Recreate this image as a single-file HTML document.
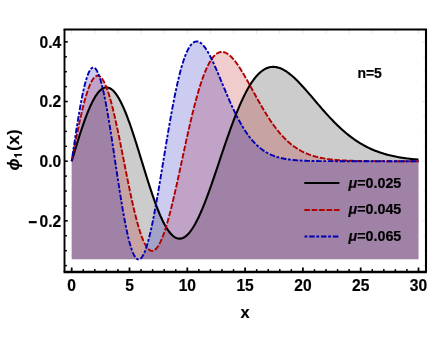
<!DOCTYPE html>
<html><head><meta charset="utf-8"><style>
html,body{margin:0;padding:0;background:#fff;}
text{stroke:#000;stroke-width:0.18px;stroke-linejoin:round;}
svg{display:block;will-change:transform;font-family:"Liberation Sans",sans-serif;font-weight:bold;}
</style></head><body>
<svg width="436" height="354" viewBox="0 0 436 354">
<rect width="436" height="354" fill="#fff"/>
<path d="M71.70,161.20 L72.86,157.34 L74.01,153.50 L75.17,149.67 L76.32,145.88 L77.48,142.13 L78.64,138.43 L79.79,134.80 L80.95,131.23 L82.10,127.75 L83.26,124.36 L84.42,121.08 L85.57,117.90 L86.73,114.84 L87.88,111.91 L89.04,109.11 L90.20,106.45 L91.35,103.95 L92.51,101.60 L93.66,99.41 L94.82,97.40 L95.98,95.55 L97.13,93.89 L98.29,92.40 L99.44,91.11 L100.60,90.00 L101.76,89.09 L102.91,88.37 L104.07,87.85 L105.22,87.53 L106.38,87.41 L107.54,87.48 L108.69,87.76 L109.85,88.23 L111.00,88.89 L112.16,89.75 L113.32,90.81 L114.47,92.04 L115.63,93.47 L116.78,95.07 L117.94,96.85 L119.10,98.80 L120.25,100.91 L121.41,103.19 L122.56,105.61 L123.72,108.18 L124.88,110.90 L126.03,113.74 L127.19,116.71 L128.34,119.79 L129.50,122.98 L130.66,126.27 L131.81,129.65 L132.97,133.11 L134.12,136.64 L135.28,140.24 L136.44,143.89 L137.59,147.58 L138.75,151.31 L139.90,155.07 L141.06,158.84 L142.22,162.61 L143.37,166.39 L144.53,170.15 L145.68,173.88 L146.84,177.59 L148.00,181.25 L149.15,184.87 L150.31,188.42 L151.46,191.91 L152.62,195.33 L153.78,198.66 L154.93,201.90 L156.09,205.04 L157.24,208.07 L158.40,211.00 L159.56,213.80 L160.71,216.48 L161.87,219.02 L163.02,221.43 L164.18,223.70 L165.34,225.82 L166.49,227.79 L167.65,229.60 L168.80,231.25 L169.96,232.75 L171.12,234.08 L172.27,235.24 L173.43,236.23 L174.58,237.05 L175.74,237.71 L176.90,238.19 L178.05,238.50 L179.21,238.63 L180.36,238.60 L181.52,238.40 L182.68,238.02 L183.83,237.48 L184.99,236.78 L186.14,235.91 L187.30,234.89 L188.46,233.70 L189.61,232.37 L190.77,230.88 L191.92,229.25 L193.08,227.48 L194.24,225.57 L195.39,223.53 L196.55,221.36 L197.70,219.07 L198.86,216.67 L200.02,214.15 L201.17,211.53 L202.33,208.81 L203.48,206.00 L204.64,203.10 L205.80,200.12 L206.95,197.07 L208.11,193.95 L209.26,190.76 L210.42,187.52 L211.58,184.24 L212.73,180.91 L213.89,177.54 L215.04,174.15 L216.20,170.73 L217.36,167.29 L218.51,163.85 L219.67,160.40 L220.82,156.95 L221.98,153.51 L223.14,150.08 L224.29,146.67 L225.45,143.28 L226.60,139.93 L227.76,136.60 L228.92,133.32 L230.07,130.08 L231.23,126.90 L232.38,123.76 L233.54,120.68 L234.70,117.67 L235.85,114.72 L237.01,111.84 L238.16,109.03 L239.32,106.29 L240.48,103.64 L241.63,101.07 L242.79,98.58 L243.94,96.18 L245.10,93.87 L246.26,91.64 L247.41,89.51 L248.57,87.48 L249.72,85.54 L250.88,83.69 L252.04,81.94 L253.19,80.29 L254.35,78.73 L255.50,77.28 L256.66,75.92 L257.82,74.66 L258.97,73.50 L260.13,72.43 L261.28,71.47 L262.44,70.59 L263.60,69.82 L264.75,69.13 L265.91,68.54 L267.06,68.05 L268.22,67.64 L269.38,67.32 L270.53,67.08 L271.69,66.93 L272.84,66.87 L274.00,66.88 L275.16,66.97 L276.31,67.14 L277.47,67.39 L278.62,67.70 L279.78,68.09 L280.94,68.54 L282.09,69.06 L283.25,69.64 L284.40,70.29 L285.56,70.99 L286.72,71.74 L287.87,72.55 L289.03,73.40 L290.18,74.31 L291.34,75.26 L292.50,76.25 L293.65,77.28 L294.81,78.35 L295.96,79.46 L297.12,80.59 L298.28,81.76 L299.43,82.96 L300.59,84.18 L301.74,85.42 L302.90,86.68 L304.06,87.97 L305.21,89.26 L306.37,90.58 L307.52,91.90 L308.68,93.24 L309.84,94.58 L310.99,95.94 L312.15,97.29 L313.30,98.65 L314.46,100.01 L315.62,101.37 L316.77,102.73 L317.93,104.08 L319.08,105.43 L320.24,106.77 L321.40,108.11 L322.55,109.44 L323.71,110.75 L324.86,112.06 L326.02,113.35 L327.18,114.63 L328.33,115.90 L329.49,117.15 L330.64,118.39 L331.80,119.60 L332.96,120.81 L334.11,121.99 L335.27,123.16 L336.42,124.30 L337.58,125.43 L338.74,126.54 L339.89,127.62 L341.05,128.69 L342.20,129.73 L343.36,130.76 L344.52,131.76 L345.67,132.74 L346.83,133.70 L347.98,134.64 L349.14,135.56 L350.30,136.45 L351.45,137.32 L352.61,138.17 L353.76,139.00 L354.92,139.81 L356.08,140.60 L357.23,141.36 L358.39,142.11 L359.54,142.83 L360.70,143.53 L361.86,144.21 L363.01,144.88 L364.17,145.52 L365.32,146.14 L366.48,146.74 L367.64,147.33 L368.79,147.89 L369.95,148.44 L371.10,148.97 L372.26,149.48 L373.42,149.97 L374.57,150.45 L375.73,150.91 L376.88,151.35 L378.04,151.78 L379.20,152.20 L380.35,152.59 L381.51,152.98 L382.66,153.35 L383.82,153.70 L384.98,154.04 L386.13,154.37 L387.29,154.69 L388.44,154.99 L389.60,155.28 L390.76,155.56 L391.91,155.83 L393.07,156.09 L394.22,156.33 L395.38,156.57 L396.54,156.80 L397.69,157.01 L398.85,157.22 L400.00,157.42 L401.16,157.61 L402.32,157.79 L403.47,157.96 L404.63,158.13 L405.78,158.29 L406.94,158.44 L408.10,158.58 L409.25,158.72 L410.41,158.85 L411.56,158.97 L412.72,159.09 L413.88,159.20 L415.03,159.31 L416.19,159.41 L417.34,159.51 L418.50,159.60 L418.50,259.30 L71.70,259.30 Z" fill="#000" fill-opacity="0.2"/>
<path d="M71.70,161.20 L72.86,155.21 L74.01,149.25 L75.17,143.35 L76.32,137.53 L77.48,131.84 L78.64,126.29 L79.79,120.91 L80.95,115.73 L82.10,110.77 L83.26,106.07 L84.42,101.63 L85.57,97.49 L86.73,93.66 L87.88,90.17 L89.04,87.02 L90.20,84.23 L91.35,81.83 L92.51,79.81 L93.66,78.19 L94.82,76.97 L95.98,76.16 L97.13,75.77 L98.29,75.79 L99.44,76.22 L100.60,77.07 L101.76,78.32 L102.91,79.97 L104.07,82.00 L105.22,84.42 L106.38,87.21 L107.54,90.34 L108.69,93.82 L109.85,97.61 L111.00,101.71 L112.16,106.08 L113.32,110.72 L114.47,115.59 L115.63,120.67 L116.78,125.94 L117.94,131.38 L119.10,136.95 L120.25,142.64 L121.41,148.41 L122.56,154.24 L123.72,160.10 L124.88,165.97 L126.03,171.81 L127.19,177.61 L128.34,183.33 L129.50,188.95 L130.66,194.46 L131.81,199.81 L132.97,204.99 L134.12,209.99 L135.28,214.77 L136.44,219.32 L137.59,223.61 L138.75,227.64 L139.90,231.39 L141.06,234.84 L142.22,237.97 L143.37,240.79 L144.53,243.27 L145.68,245.41 L146.84,247.21 L148.00,248.66 L149.15,249.74 L150.31,250.48 L151.46,250.85 L152.62,250.86 L153.78,250.52 L154.93,249.83 L156.09,248.80 L157.24,247.42 L158.40,245.72 L159.56,243.69 L160.71,241.35 L161.87,238.71 L163.02,235.78 L164.18,232.58 L165.34,229.12 L166.49,225.41 L167.65,221.47 L168.80,217.31 L169.96,212.96 L171.12,208.43 L172.27,203.74 L173.43,198.89 L174.58,193.93 L175.74,188.85 L176.90,183.68 L178.05,178.44 L179.21,173.14 L180.36,167.80 L181.52,162.45 L182.68,157.08 L183.83,151.74 L184.99,146.42 L186.14,141.14 L187.30,135.92 L188.46,130.78 L189.61,125.73 L190.77,120.77 L191.92,115.93 L193.08,111.22 L194.24,106.64 L195.39,102.20 L196.55,97.92 L197.70,93.81 L198.86,89.87 L200.02,86.10 L201.17,82.52 L202.33,79.13 L203.48,75.93 L204.64,72.93 L205.80,70.13 L206.95,67.53 L208.11,65.14 L209.26,62.95 L210.42,60.97 L211.58,59.19 L212.73,57.61 L213.89,56.23 L215.04,55.05 L216.20,54.07 L217.36,53.28 L218.51,52.67 L219.67,52.25 L220.82,52.00 L221.98,51.93 L223.14,52.02 L224.29,52.28 L225.45,52.69 L226.60,53.25 L227.76,53.95 L228.92,54.78 L230.07,55.75 L231.23,56.83 L232.38,58.03 L233.54,59.33 L234.70,60.74 L235.85,62.24 L237.01,63.82 L238.16,65.49 L239.32,67.22 L240.48,69.02 L241.63,70.88 L242.79,72.79 L243.94,74.75 L245.10,76.74 L246.26,78.77 L247.41,80.83 L248.57,82.90 L249.72,85.00 L250.88,87.10 L252.04,89.22 L253.19,91.33 L254.35,93.44 L255.50,95.54 L256.66,97.64 L257.82,99.71 L258.97,101.77 L260.13,103.81 L261.28,105.82 L262.44,107.81 L263.60,109.76 L264.75,111.69 L265.91,113.57 L267.06,115.43 L268.22,117.24 L269.38,119.01 L270.53,120.75 L271.69,122.44 L272.84,124.09 L274.00,125.69 L275.16,127.25 L276.31,128.76 L277.47,130.23 L278.62,131.66 L279.78,133.04 L280.94,134.37 L282.09,135.66 L283.25,136.90 L284.40,138.10 L285.56,139.26 L286.72,140.37 L287.87,141.44 L289.03,142.46 L290.18,143.45 L291.34,144.39 L292.50,145.30 L293.65,146.16 L294.81,146.99 L295.96,147.78 L297.12,148.54 L298.28,149.26 L299.43,149.95 L300.59,150.60 L301.74,151.23 L302.90,151.82 L304.06,152.38 L305.21,152.92 L306.37,153.42 L307.52,153.90 L308.68,154.36 L309.84,154.79 L310.99,155.19 L312.15,155.58 L313.30,155.94 L314.46,156.29 L315.62,156.61 L316.77,156.91 L317.93,157.20 L319.08,157.47 L320.24,157.72 L321.40,157.96 L322.55,158.19 L323.71,158.40 L324.86,158.59 L326.02,158.78 L327.18,158.95 L328.33,159.11 L329.49,159.26 L330.64,159.41 L331.80,159.54 L332.96,159.66 L334.11,159.78 L335.27,159.88 L336.42,159.98 L337.58,160.08 L338.74,160.16 L339.89,160.24 L341.05,160.32 L342.20,160.39 L343.36,160.45 L344.52,160.51 L345.67,160.57 L346.83,160.62 L347.98,160.66 L349.14,160.71 L350.30,160.75 L351.45,160.78 L352.61,160.82 L353.76,160.85 L354.92,160.88 L356.08,160.91 L357.23,160.93 L358.39,160.96 L359.54,160.98 L360.70,161.00 L361.86,161.01 L363.01,161.03 L364.17,161.04 L365.32,161.06 L366.48,161.07 L367.64,161.08 L368.79,161.09 L369.95,161.10 L371.10,161.11 L372.26,161.12 L373.42,161.13 L374.57,161.13 L375.73,161.14 L376.88,161.15 L378.04,161.15 L379.20,161.16 L380.35,161.16 L381.51,161.16 L382.66,161.17 L383.82,161.17 L384.98,161.17 L386.13,161.18 L387.29,161.18 L388.44,161.18 L389.60,161.18 L390.76,161.18 L391.91,161.19 L393.07,161.19 L394.22,161.19 L395.38,161.19 L396.54,161.19 L397.69,161.19 L398.85,161.19 L400.00,161.19 L401.16,161.19 L402.32,161.19 L403.47,161.20 L404.63,161.20 L405.78,161.20 L406.94,161.20 L408.10,161.20 L409.25,161.20 L410.41,161.20 L411.56,161.20 L412.72,161.20 L413.88,161.20 L415.03,161.20 L416.19,161.20 L417.34,161.20 L418.50,161.20 L418.50,259.30 L71.70,259.30 Z" fill="#b20000" fill-opacity="0.2"/>
<path d="M71.70,161.20 L72.86,153.31 L74.01,145.48 L75.17,137.76 L76.32,130.20 L77.48,122.87 L78.64,115.81 L79.79,109.08 L80.95,102.71 L82.10,96.76 L83.26,91.28 L84.42,86.28 L85.57,81.82 L86.73,77.92 L87.88,74.61 L89.04,71.92 L90.20,69.85 L91.35,68.42 L92.51,67.65 L93.66,67.53 L94.82,68.07 L95.98,69.25 L97.13,71.08 L98.29,73.53 L99.44,76.59 L100.60,80.23 L101.76,84.43 L102.91,89.16 L104.07,94.38 L105.22,100.06 L106.38,106.15 L107.54,112.61 L108.69,119.40 L109.85,126.47 L111.00,133.77 L112.16,141.26 L113.32,148.88 L114.47,156.58 L115.63,164.31 L116.78,172.01 L117.94,179.65 L119.10,187.17 L120.25,194.53 L121.41,201.67 L122.56,208.55 L123.72,215.13 L124.88,221.37 L126.03,227.24 L127.19,232.70 L128.34,237.71 L129.50,242.26 L130.66,246.31 L131.81,249.85 L132.97,252.85 L134.12,255.31 L135.28,257.22 L136.44,258.55 L137.59,259.33 L138.75,259.53 L139.90,259.18 L141.06,258.26 L142.22,256.80 L143.37,254.81 L144.53,252.30 L145.68,249.29 L146.84,245.81 L148.00,241.87 L149.15,237.50 L150.31,232.73 L151.46,227.59 L152.62,222.11 L153.78,216.32 L154.93,210.25 L156.09,203.94 L157.24,197.43 L158.40,190.73 L159.56,183.90 L160.71,176.95 L161.87,169.94 L163.02,162.88 L164.18,155.82 L165.34,148.78 L166.49,141.79 L167.65,134.89 L168.80,128.10 L169.96,121.45 L171.12,114.96 L172.27,108.66 L173.43,102.56 L174.58,96.69 L175.74,91.07 L176.90,85.71 L178.05,80.62 L179.21,75.82 L180.36,71.32 L181.52,67.12 L182.68,63.24 L183.83,59.68 L184.99,56.44 L186.14,53.53 L187.30,50.94 L188.46,48.67 L189.61,46.72 L190.77,45.08 L191.92,43.76 L193.08,42.74 L194.24,42.01 L195.39,41.57 L196.55,41.41 L197.70,41.51 L198.86,41.87 L200.02,42.47 L201.17,43.30 L202.33,44.35 L203.48,45.60 L204.64,47.05 L205.80,48.67 L206.95,50.46 L208.11,52.40 L209.26,54.48 L210.42,56.69 L211.58,59.00 L212.73,61.41 L213.89,63.91 L215.04,66.49 L216.20,69.12 L217.36,71.81 L218.51,74.53 L219.67,77.29 L220.82,80.06 L221.98,82.84 L223.14,85.63 L224.29,88.40 L225.45,91.16 L226.60,93.90 L227.76,96.61 L228.92,99.28 L230.07,101.92 L231.23,104.50 L232.38,107.04 L233.54,109.52 L234.70,111.94 L235.85,114.30 L237.01,116.60 L238.16,118.83 L239.32,120.99 L240.48,123.08 L241.63,125.10 L242.79,127.05 L243.94,128.93 L245.10,130.74 L246.26,132.47 L247.41,134.13 L248.57,135.73 L249.72,137.25 L250.88,138.70 L252.04,140.09 L253.19,141.41 L254.35,142.67 L255.50,143.86 L256.66,144.99 L257.82,146.06 L258.97,147.08 L260.13,148.04 L261.28,148.94 L262.44,149.80 L263.60,150.60 L264.75,151.36 L265.91,152.07 L267.06,152.73 L268.22,153.36 L269.38,153.95 L270.53,154.49 L271.69,155.01 L272.84,155.48 L274.00,155.93 L275.16,156.35 L276.31,156.73 L277.47,157.09 L278.62,157.43 L279.78,157.74 L280.94,158.02 L282.09,158.29 L283.25,158.53 L284.40,158.76 L285.56,158.97 L286.72,159.16 L287.87,159.34 L289.03,159.51 L290.18,159.66 L291.34,159.80 L292.50,159.92 L293.65,160.04 L294.81,160.15 L295.96,160.24 L297.12,160.33 L298.28,160.42 L299.43,160.49 L300.59,160.56 L301.74,160.62 L302.90,160.68 L304.06,160.73 L305.21,160.77 L306.37,160.82 L307.52,160.86 L308.68,160.89 L309.84,160.92 L310.99,160.95 L312.15,160.98 L313.30,161.00 L314.46,161.02 L315.62,161.04 L316.77,161.06 L317.93,161.07 L319.08,161.09 L320.24,161.10 L321.40,161.11 L322.55,161.12 L323.71,161.13 L324.86,161.14 L326.02,161.14 L327.18,161.15 L328.33,161.16 L329.49,161.16 L330.64,161.16 L331.80,161.17 L332.96,161.17 L334.11,161.18 L335.27,161.18 L336.42,161.18 L337.58,161.18 L338.74,161.19 L339.89,161.19 L341.05,161.19 L342.20,161.19 L343.36,161.19 L344.52,161.19 L345.67,161.19 L346.83,161.19 L347.98,161.19 L349.14,161.20 L350.30,161.20 L351.45,161.20 L352.61,161.20 L353.76,161.20 L354.92,161.20 L356.08,161.20 L357.23,161.20 L358.39,161.20 L359.54,161.20 L360.70,161.20 L361.86,161.20 L363.01,161.20 L364.17,161.20 L365.32,161.20 L366.48,161.20 L367.64,161.20 L368.79,161.20 L369.95,161.20 L371.10,161.20 L372.26,161.20 L373.42,161.20 L374.57,161.20 L375.73,161.20 L376.88,161.20 L378.04,161.20 L379.20,161.20 L380.35,161.20 L381.51,161.20 L382.66,161.20 L383.82,161.20 L384.98,161.20 L386.13,161.20 L387.29,161.20 L388.44,161.20 L389.60,161.20 L390.76,161.20 L391.91,161.20 L393.07,161.20 L394.22,161.20 L395.38,161.20 L396.54,161.20 L397.69,161.20 L398.85,161.20 L400.00,161.20 L401.16,161.20 L402.32,161.20 L403.47,161.20 L404.63,161.20 L405.78,161.20 L406.94,161.20 L408.10,161.20 L409.25,161.20 L410.41,161.20 L411.56,161.20 L412.72,161.20 L413.88,161.20 L415.03,161.20 L416.19,161.20 L417.34,161.20 L418.50,161.20 L418.50,259.30 L71.70,259.30 Z" fill="#0000b2" fill-opacity="0.2"/>
<path d="M71.70,161.20 L72.86,157.34 L74.01,153.50 L75.17,149.67 L76.32,145.88 L77.48,142.13 L78.64,138.43 L79.79,134.80 L80.95,131.23 L82.10,127.75 L83.26,124.36 L84.42,121.08 L85.57,117.90 L86.73,114.84 L87.88,111.91 L89.04,109.11 L90.20,106.45 L91.35,103.95 L92.51,101.60 L93.66,99.41 L94.82,97.40 L95.98,95.55 L97.13,93.89 L98.29,92.40 L99.44,91.11 L100.60,90.00 L101.76,89.09 L102.91,88.37 L104.07,87.85 L105.22,87.53 L106.38,87.41 L107.54,87.48 L108.69,87.76 L109.85,88.23 L111.00,88.89 L112.16,89.75 L113.32,90.81 L114.47,92.04 L115.63,93.47 L116.78,95.07 L117.94,96.85 L119.10,98.80 L120.25,100.91 L121.41,103.19 L122.56,105.61 L123.72,108.18 L124.88,110.90 L126.03,113.74 L127.19,116.71 L128.34,119.79 L129.50,122.98 L130.66,126.27 L131.81,129.65 L132.97,133.11 L134.12,136.64 L135.28,140.24 L136.44,143.89 L137.59,147.58 L138.75,151.31 L139.90,155.07 L141.06,158.84 L142.22,162.61 L143.37,166.39 L144.53,170.15 L145.68,173.88 L146.84,177.59 L148.00,181.25 L149.15,184.87 L150.31,188.42 L151.46,191.91 L152.62,195.33 L153.78,198.66 L154.93,201.90 L156.09,205.04 L157.24,208.07 L158.40,211.00 L159.56,213.80 L160.71,216.48 L161.87,219.02 L163.02,221.43 L164.18,223.70 L165.34,225.82 L166.49,227.79 L167.65,229.60 L168.80,231.25 L169.96,232.75 L171.12,234.08 L172.27,235.24 L173.43,236.23 L174.58,237.05 L175.74,237.71 L176.90,238.19 L178.05,238.50 L179.21,238.63 L180.36,238.60 L181.52,238.40 L182.68,238.02 L183.83,237.48 L184.99,236.78 L186.14,235.91 L187.30,234.89 L188.46,233.70 L189.61,232.37 L190.77,230.88 L191.92,229.25 L193.08,227.48 L194.24,225.57 L195.39,223.53 L196.55,221.36 L197.70,219.07 L198.86,216.67 L200.02,214.15 L201.17,211.53 L202.33,208.81 L203.48,206.00 L204.64,203.10 L205.80,200.12 L206.95,197.07 L208.11,193.95 L209.26,190.76 L210.42,187.52 L211.58,184.24 L212.73,180.91 L213.89,177.54 L215.04,174.15 L216.20,170.73 L217.36,167.29 L218.51,163.85 L219.67,160.40 L220.82,156.95 L221.98,153.51 L223.14,150.08 L224.29,146.67 L225.45,143.28 L226.60,139.93 L227.76,136.60 L228.92,133.32 L230.07,130.08 L231.23,126.90 L232.38,123.76 L233.54,120.68 L234.70,117.67 L235.85,114.72 L237.01,111.84 L238.16,109.03 L239.32,106.29 L240.48,103.64 L241.63,101.07 L242.79,98.58 L243.94,96.18 L245.10,93.87 L246.26,91.64 L247.41,89.51 L248.57,87.48 L249.72,85.54 L250.88,83.69 L252.04,81.94 L253.19,80.29 L254.35,78.73 L255.50,77.28 L256.66,75.92 L257.82,74.66 L258.97,73.50 L260.13,72.43 L261.28,71.47 L262.44,70.59 L263.60,69.82 L264.75,69.13 L265.91,68.54 L267.06,68.05 L268.22,67.64 L269.38,67.32 L270.53,67.08 L271.69,66.93 L272.84,66.87 L274.00,66.88 L275.16,66.97 L276.31,67.14 L277.47,67.39 L278.62,67.70 L279.78,68.09 L280.94,68.54 L282.09,69.06 L283.25,69.64 L284.40,70.29 L285.56,70.99 L286.72,71.74 L287.87,72.55 L289.03,73.40 L290.18,74.31 L291.34,75.26 L292.50,76.25 L293.65,77.28 L294.81,78.35 L295.96,79.46 L297.12,80.59 L298.28,81.76 L299.43,82.96 L300.59,84.18 L301.74,85.42 L302.90,86.68 L304.06,87.97 L305.21,89.26 L306.37,90.58 L307.52,91.90 L308.68,93.24 L309.84,94.58 L310.99,95.94 L312.15,97.29 L313.30,98.65 L314.46,100.01 L315.62,101.37 L316.77,102.73 L317.93,104.08 L319.08,105.43 L320.24,106.77 L321.40,108.11 L322.55,109.44 L323.71,110.75 L324.86,112.06 L326.02,113.35 L327.18,114.63 L328.33,115.90 L329.49,117.15 L330.64,118.39 L331.80,119.60 L332.96,120.81 L334.11,121.99 L335.27,123.16 L336.42,124.30 L337.58,125.43 L338.74,126.54 L339.89,127.62 L341.05,128.69 L342.20,129.73 L343.36,130.76 L344.52,131.76 L345.67,132.74 L346.83,133.70 L347.98,134.64 L349.14,135.56 L350.30,136.45 L351.45,137.32 L352.61,138.17 L353.76,139.00 L354.92,139.81 L356.08,140.60 L357.23,141.36 L358.39,142.11 L359.54,142.83 L360.70,143.53 L361.86,144.21 L363.01,144.88 L364.17,145.52 L365.32,146.14 L366.48,146.74 L367.64,147.33 L368.79,147.89 L369.95,148.44 L371.10,148.97 L372.26,149.48 L373.42,149.97 L374.57,150.45 L375.73,150.91 L376.88,151.35 L378.04,151.78 L379.20,152.20 L380.35,152.59 L381.51,152.98 L382.66,153.35 L383.82,153.70 L384.98,154.04 L386.13,154.37 L387.29,154.69 L388.44,154.99 L389.60,155.28 L390.76,155.56 L391.91,155.83 L393.07,156.09 L394.22,156.33 L395.38,156.57 L396.54,156.80 L397.69,157.01 L398.85,157.22 L400.00,157.42 L401.16,157.61 L402.32,157.79 L403.47,157.96 L404.63,158.13 L405.78,158.29 L406.94,158.44 L408.10,158.58 L409.25,158.72 L410.41,158.85 L411.56,158.97 L412.72,159.09 L413.88,159.20 L415.03,159.31 L416.19,159.41 L417.34,159.51 L418.50,159.60" fill="none" stroke="#000" stroke-width="2.1" stroke-linejoin="round"/>
<path d="M71.70,161.20 L72.86,155.21 L74.01,149.25 L75.17,143.35 L76.32,137.53 L77.48,131.84 L78.64,126.29 L79.79,120.91 L80.95,115.73 L82.10,110.77 L83.26,106.07 L84.42,101.63 L85.57,97.49 L86.73,93.66 L87.88,90.17 L89.04,87.02 L90.20,84.23 L91.35,81.83 L92.51,79.81 L93.66,78.19 L94.82,76.97 L95.98,76.16 L97.13,75.77 L98.29,75.79 L99.44,76.22 L100.60,77.07 L101.76,78.32 L102.91,79.97 L104.07,82.00 L105.22,84.42 L106.38,87.21 L107.54,90.34 L108.69,93.82 L109.85,97.61 L111.00,101.71 L112.16,106.08 L113.32,110.72 L114.47,115.59 L115.63,120.67 L116.78,125.94 L117.94,131.38 L119.10,136.95 L120.25,142.64 L121.41,148.41 L122.56,154.24 L123.72,160.10 L124.88,165.97 L126.03,171.81 L127.19,177.61 L128.34,183.33 L129.50,188.95 L130.66,194.46 L131.81,199.81 L132.97,204.99 L134.12,209.99 L135.28,214.77 L136.44,219.32 L137.59,223.61 L138.75,227.64 L139.90,231.39 L141.06,234.84 L142.22,237.97 L143.37,240.79 L144.53,243.27 L145.68,245.41 L146.84,247.21 L148.00,248.66 L149.15,249.74 L150.31,250.48 L151.46,250.85 L152.62,250.86 L153.78,250.52 L154.93,249.83 L156.09,248.80 L157.24,247.42 L158.40,245.72 L159.56,243.69 L160.71,241.35 L161.87,238.71 L163.02,235.78 L164.18,232.58 L165.34,229.12 L166.49,225.41 L167.65,221.47 L168.80,217.31 L169.96,212.96 L171.12,208.43 L172.27,203.74 L173.43,198.89 L174.58,193.93 L175.74,188.85 L176.90,183.68 L178.05,178.44 L179.21,173.14 L180.36,167.80 L181.52,162.45 L182.68,157.08 L183.83,151.74 L184.99,146.42 L186.14,141.14 L187.30,135.92 L188.46,130.78 L189.61,125.73 L190.77,120.77 L191.92,115.93 L193.08,111.22 L194.24,106.64 L195.39,102.20 L196.55,97.92 L197.70,93.81 L198.86,89.87 L200.02,86.10 L201.17,82.52 L202.33,79.13 L203.48,75.93 L204.64,72.93 L205.80,70.13 L206.95,67.53 L208.11,65.14 L209.26,62.95 L210.42,60.97 L211.58,59.19 L212.73,57.61 L213.89,56.23 L215.04,55.05 L216.20,54.07 L217.36,53.28 L218.51,52.67 L219.67,52.25 L220.82,52.00 L221.98,51.93 L223.14,52.02 L224.29,52.28 L225.45,52.69 L226.60,53.25 L227.76,53.95 L228.92,54.78 L230.07,55.75 L231.23,56.83 L232.38,58.03 L233.54,59.33 L234.70,60.74 L235.85,62.24 L237.01,63.82 L238.16,65.49 L239.32,67.22 L240.48,69.02 L241.63,70.88 L242.79,72.79 L243.94,74.75 L245.10,76.74 L246.26,78.77 L247.41,80.83 L248.57,82.90 L249.72,85.00 L250.88,87.10 L252.04,89.22 L253.19,91.33 L254.35,93.44 L255.50,95.54 L256.66,97.64 L257.82,99.71 L258.97,101.77 L260.13,103.81 L261.28,105.82 L262.44,107.81 L263.60,109.76 L264.75,111.69 L265.91,113.57 L267.06,115.43 L268.22,117.24 L269.38,119.01 L270.53,120.75 L271.69,122.44 L272.84,124.09 L274.00,125.69 L275.16,127.25 L276.31,128.76 L277.47,130.23 L278.62,131.66 L279.78,133.04 L280.94,134.37 L282.09,135.66 L283.25,136.90 L284.40,138.10 L285.56,139.26 L286.72,140.37 L287.87,141.44 L289.03,142.46 L290.18,143.45 L291.34,144.39 L292.50,145.30 L293.65,146.16 L294.81,146.99 L295.96,147.78 L297.12,148.54 L298.28,149.26 L299.43,149.95 L300.59,150.60 L301.74,151.23 L302.90,151.82 L304.06,152.38 L305.21,152.92 L306.37,153.42 L307.52,153.90 L308.68,154.36 L309.84,154.79 L310.99,155.19 L312.15,155.58 L313.30,155.94 L314.46,156.29 L315.62,156.61 L316.77,156.91 L317.93,157.20 L319.08,157.47 L320.24,157.72 L321.40,157.96 L322.55,158.19 L323.71,158.40 L324.86,158.59 L326.02,158.78 L327.18,158.95 L328.33,159.11 L329.49,159.26 L330.64,159.41 L331.80,159.54 L332.96,159.66 L334.11,159.78 L335.27,159.88 L336.42,159.98 L337.58,160.08 L338.74,160.16 L339.89,160.24 L341.05,160.32 L342.20,160.39 L343.36,160.45 L344.52,160.51 L345.67,160.57 L346.83,160.62 L347.98,160.66 L349.14,160.71 L350.30,160.75 L351.45,160.78 L352.61,160.82 L353.76,160.85 L354.92,160.88 L356.08,160.91 L357.23,160.93 L358.39,160.96 L359.54,160.98 L360.70,161.00 L361.86,161.01 L363.01,161.03 L364.17,161.04 L365.32,161.06 L366.48,161.07 L367.64,161.08 L368.79,161.09 L369.95,161.10 L371.10,161.11 L372.26,161.12 L373.42,161.13 L374.57,161.13 L375.73,161.14 L376.88,161.15 L378.04,161.15 L379.20,161.16 L380.35,161.16 L381.51,161.16 L382.66,161.17 L383.82,161.17 L384.98,161.17 L386.13,161.18 L387.29,161.18 L388.44,161.18 L389.60,161.18 L390.76,161.18 L391.91,161.19 L393.07,161.19 L394.22,161.19 L395.38,161.19 L396.54,161.19 L397.69,161.19 L398.85,161.19 L400.00,161.19 L401.16,161.19 L402.32,161.19 L403.47,161.20 L404.63,161.20 L405.78,161.20 L406.94,161.20 L408.10,161.20 L409.25,161.20 L410.41,161.20 L411.56,161.20 L412.72,161.20 L413.88,161.20 L415.03,161.20 L416.19,161.20 L417.34,161.20 L418.50,161.20" fill="none" stroke="#b20000" stroke-width="1.9" stroke-dasharray="5.7 1.7" stroke-linejoin="round"/>
<path d="M71.70,161.20 L72.86,153.31 L74.01,145.48 L75.17,137.76 L76.32,130.20 L77.48,122.87 L78.64,115.81 L79.79,109.08 L80.95,102.71 L82.10,96.76 L83.26,91.28 L84.42,86.28 L85.57,81.82 L86.73,77.92 L87.88,74.61 L89.04,71.92 L90.20,69.85 L91.35,68.42 L92.51,67.65 L93.66,67.53 L94.82,68.07 L95.98,69.25 L97.13,71.08 L98.29,73.53 L99.44,76.59 L100.60,80.23 L101.76,84.43 L102.91,89.16 L104.07,94.38 L105.22,100.06 L106.38,106.15 L107.54,112.61 L108.69,119.40 L109.85,126.47 L111.00,133.77 L112.16,141.26 L113.32,148.88 L114.47,156.58 L115.63,164.31 L116.78,172.01 L117.94,179.65 L119.10,187.17 L120.25,194.53 L121.41,201.67 L122.56,208.55 L123.72,215.13 L124.88,221.37 L126.03,227.24 L127.19,232.70 L128.34,237.71 L129.50,242.26 L130.66,246.31 L131.81,249.85 L132.97,252.85 L134.12,255.31 L135.28,257.22 L136.44,258.55 L137.59,259.33 L138.75,259.53 L139.90,259.18 L141.06,258.26 L142.22,256.80 L143.37,254.81 L144.53,252.30 L145.68,249.29 L146.84,245.81 L148.00,241.87 L149.15,237.50 L150.31,232.73 L151.46,227.59 L152.62,222.11 L153.78,216.32 L154.93,210.25 L156.09,203.94 L157.24,197.43 L158.40,190.73 L159.56,183.90 L160.71,176.95 L161.87,169.94 L163.02,162.88 L164.18,155.82 L165.34,148.78 L166.49,141.79 L167.65,134.89 L168.80,128.10 L169.96,121.45 L171.12,114.96 L172.27,108.66 L173.43,102.56 L174.58,96.69 L175.74,91.07 L176.90,85.71 L178.05,80.62 L179.21,75.82 L180.36,71.32 L181.52,67.12 L182.68,63.24 L183.83,59.68 L184.99,56.44 L186.14,53.53 L187.30,50.94 L188.46,48.67 L189.61,46.72 L190.77,45.08 L191.92,43.76 L193.08,42.74 L194.24,42.01 L195.39,41.57 L196.55,41.41 L197.70,41.51 L198.86,41.87 L200.02,42.47 L201.17,43.30 L202.33,44.35 L203.48,45.60 L204.64,47.05 L205.80,48.67 L206.95,50.46 L208.11,52.40 L209.26,54.48 L210.42,56.69 L211.58,59.00 L212.73,61.41 L213.89,63.91 L215.04,66.49 L216.20,69.12 L217.36,71.81 L218.51,74.53 L219.67,77.29 L220.82,80.06 L221.98,82.84 L223.14,85.63 L224.29,88.40 L225.45,91.16 L226.60,93.90 L227.76,96.61 L228.92,99.28 L230.07,101.92 L231.23,104.50 L232.38,107.04 L233.54,109.52 L234.70,111.94 L235.85,114.30 L237.01,116.60 L238.16,118.83 L239.32,120.99 L240.48,123.08 L241.63,125.10 L242.79,127.05 L243.94,128.93 L245.10,130.74 L246.26,132.47 L247.41,134.13 L248.57,135.73 L249.72,137.25 L250.88,138.70 L252.04,140.09 L253.19,141.41 L254.35,142.67 L255.50,143.86 L256.66,144.99 L257.82,146.06 L258.97,147.08 L260.13,148.04 L261.28,148.94 L262.44,149.80 L263.60,150.60 L264.75,151.36 L265.91,152.07 L267.06,152.73 L268.22,153.36 L269.38,153.95 L270.53,154.49 L271.69,155.01 L272.84,155.48 L274.00,155.93 L275.16,156.35 L276.31,156.73 L277.47,157.09 L278.62,157.43 L279.78,157.74 L280.94,158.02 L282.09,158.29 L283.25,158.53 L284.40,158.76 L285.56,158.97 L286.72,159.16 L287.87,159.34 L289.03,159.51 L290.18,159.66 L291.34,159.80 L292.50,159.92 L293.65,160.04 L294.81,160.15 L295.96,160.24 L297.12,160.33 L298.28,160.42 L299.43,160.49 L300.59,160.56 L301.74,160.62 L302.90,160.68 L304.06,160.73 L305.21,160.77 L306.37,160.82 L307.52,160.86 L308.68,160.89 L309.84,160.92 L310.99,160.95 L312.15,160.98 L313.30,161.00 L314.46,161.02 L315.62,161.04 L316.77,161.06 L317.93,161.07 L319.08,161.09 L320.24,161.10 L321.40,161.11 L322.55,161.12 L323.71,161.13 L324.86,161.14 L326.02,161.14 L327.18,161.15 L328.33,161.16 L329.49,161.16 L330.64,161.16 L331.80,161.17 L332.96,161.17 L334.11,161.18 L335.27,161.18 L336.42,161.18 L337.58,161.18 L338.74,161.19 L339.89,161.19 L341.05,161.19 L342.20,161.19 L343.36,161.19 L344.52,161.19 L345.67,161.19 L346.83,161.19 L347.98,161.19 L349.14,161.20 L350.30,161.20 L351.45,161.20 L352.61,161.20 L353.76,161.20 L354.92,161.20 L356.08,161.20 L357.23,161.20 L358.39,161.20 L359.54,161.20 L360.70,161.20 L361.86,161.20 L363.01,161.20 L364.17,161.20 L365.32,161.20 L366.48,161.20 L367.64,161.20 L368.79,161.20 L369.95,161.20 L371.10,161.20 L372.26,161.20 L373.42,161.20 L374.57,161.20 L375.73,161.20 L376.88,161.20 L378.04,161.20 L379.20,161.20 L380.35,161.20 L381.51,161.20 L382.66,161.20 L383.82,161.20 L384.98,161.20 L386.13,161.20 L387.29,161.20 L388.44,161.20 L389.60,161.20 L390.76,161.20 L391.91,161.20 L393.07,161.20 L394.22,161.20 L395.38,161.20 L396.54,161.20 L397.69,161.20 L398.85,161.20 L400.00,161.20 L401.16,161.20 L402.32,161.20 L403.47,161.20 L404.63,161.20 L405.78,161.20 L406.94,161.20 L408.10,161.20 L409.25,161.20 L410.41,161.20 L411.56,161.20 L412.72,161.20 L413.88,161.20 L415.03,161.20 L416.19,161.20 L417.34,161.20 L418.50,161.20" fill="none" stroke="#0000b2" stroke-width="1.9" stroke-dasharray="2.8 1.8 5.6 1.6" stroke-linejoin="round"/>
<g stroke="#e4e4e4" stroke-width="1"><line x1="71.70" y1="29.40" x2="71.70" y2="33.60"/><line x1="94.82" y1="29.40" x2="94.82" y2="33.60"/><line x1="117.94" y1="29.40" x2="117.94" y2="33.60"/><line x1="141.06" y1="29.40" x2="141.06" y2="33.60"/><line x1="164.18" y1="29.40" x2="164.18" y2="33.60"/><line x1="187.30" y1="29.40" x2="187.30" y2="33.60"/><line x1="210.42" y1="29.40" x2="210.42" y2="33.60"/><line x1="233.54" y1="29.40" x2="233.54" y2="33.60"/><line x1="256.66" y1="29.40" x2="256.66" y2="33.60"/><line x1="279.78" y1="29.40" x2="279.78" y2="33.60"/><line x1="302.90" y1="29.40" x2="302.90" y2="33.60"/><line x1="326.02" y1="29.40" x2="326.02" y2="33.60"/><line x1="349.14" y1="29.40" x2="349.14" y2="33.60"/><line x1="372.26" y1="29.40" x2="372.26" y2="33.60"/><line x1="395.38" y1="29.40" x2="395.38" y2="33.60"/><line x1="418.50" y1="29.40" x2="418.50" y2="33.60"/><line x1="425.90" y1="265.61" x2="423.30" y2="265.61"/><line x1="425.90" y1="250.69" x2="423.30" y2="250.69"/><line x1="425.90" y1="235.77" x2="423.30" y2="235.77"/><line x1="425.90" y1="220.86" x2="421.60" y2="220.86"/><line x1="425.90" y1="205.94" x2="423.30" y2="205.94"/><line x1="425.90" y1="191.03" x2="423.30" y2="191.03"/><line x1="425.90" y1="176.11" x2="423.30" y2="176.11"/><line x1="425.90" y1="161.20" x2="421.60" y2="161.20"/><line x1="425.90" y1="146.28" x2="423.30" y2="146.28"/><line x1="425.90" y1="131.37" x2="423.30" y2="131.37"/><line x1="425.90" y1="116.45" x2="423.30" y2="116.45"/><line x1="425.90" y1="101.54" x2="421.60" y2="101.54"/><line x1="425.90" y1="86.62" x2="423.30" y2="86.62"/><line x1="425.90" y1="71.71" x2="423.30" y2="71.71"/><line x1="425.90" y1="56.79" x2="423.30" y2="56.79"/><line x1="425.90" y1="41.88" x2="421.60" y2="41.88"/></g>
<g stroke="#000"><line x1="71.70" y1="271.90" x2="71.70" y2="267.50" stroke-width="1.8"/><line x1="83.26" y1="271.90" x2="83.26" y2="269.10" stroke-width="1.5"/><line x1="94.82" y1="271.90" x2="94.82" y2="269.10" stroke-width="1.5"/><line x1="106.38" y1="271.90" x2="106.38" y2="269.10" stroke-width="1.5"/><line x1="117.94" y1="271.90" x2="117.94" y2="269.10" stroke-width="1.5"/><line x1="129.50" y1="271.90" x2="129.50" y2="267.50" stroke-width="1.8"/><line x1="141.06" y1="271.90" x2="141.06" y2="269.10" stroke-width="1.5"/><line x1="152.62" y1="271.90" x2="152.62" y2="269.10" stroke-width="1.5"/><line x1="164.18" y1="271.90" x2="164.18" y2="269.10" stroke-width="1.5"/><line x1="175.74" y1="271.90" x2="175.74" y2="269.10" stroke-width="1.5"/><line x1="187.30" y1="271.90" x2="187.30" y2="267.50" stroke-width="1.8"/><line x1="198.86" y1="271.90" x2="198.86" y2="269.10" stroke-width="1.5"/><line x1="210.42" y1="271.90" x2="210.42" y2="269.10" stroke-width="1.5"/><line x1="221.98" y1="271.90" x2="221.98" y2="269.10" stroke-width="1.5"/><line x1="233.54" y1="271.90" x2="233.54" y2="269.10" stroke-width="1.5"/><line x1="245.10" y1="271.90" x2="245.10" y2="267.50" stroke-width="1.8"/><line x1="256.66" y1="271.90" x2="256.66" y2="269.10" stroke-width="1.5"/><line x1="268.22" y1="271.90" x2="268.22" y2="269.10" stroke-width="1.5"/><line x1="279.78" y1="271.90" x2="279.78" y2="269.10" stroke-width="1.5"/><line x1="291.34" y1="271.90" x2="291.34" y2="269.10" stroke-width="1.5"/><line x1="302.90" y1="271.90" x2="302.90" y2="267.50" stroke-width="1.8"/><line x1="314.46" y1="271.90" x2="314.46" y2="269.10" stroke-width="1.5"/><line x1="326.02" y1="271.90" x2="326.02" y2="269.10" stroke-width="1.5"/><line x1="337.58" y1="271.90" x2="337.58" y2="269.10" stroke-width="1.5"/><line x1="349.14" y1="271.90" x2="349.14" y2="269.10" stroke-width="1.5"/><line x1="360.70" y1="271.90" x2="360.70" y2="267.50" stroke-width="1.8"/><line x1="372.26" y1="271.90" x2="372.26" y2="269.10" stroke-width="1.5"/><line x1="383.82" y1="271.90" x2="383.82" y2="269.10" stroke-width="1.5"/><line x1="395.38" y1="271.90" x2="395.38" y2="269.10" stroke-width="1.5"/><line x1="406.94" y1="271.90" x2="406.94" y2="269.10" stroke-width="1.5"/><line x1="418.50" y1="271.90" x2="418.50" y2="267.50" stroke-width="1.8"/><line x1="64.50" y1="265.61" x2="66.90" y2="265.61" stroke-width="1.5"/><line x1="64.50" y1="250.69" x2="66.90" y2="250.69" stroke-width="1.5"/><line x1="64.50" y1="235.77" x2="66.90" y2="235.77" stroke-width="1.5"/><line x1="64.50" y1="220.86" x2="67.80" y2="220.86" stroke-width="1.6"/><line x1="64.50" y1="205.94" x2="66.90" y2="205.94" stroke-width="1.5"/><line x1="64.50" y1="191.03" x2="66.90" y2="191.03" stroke-width="1.5"/><line x1="64.50" y1="176.11" x2="66.90" y2="176.11" stroke-width="1.5"/><line x1="64.50" y1="161.20" x2="67.80" y2="161.20" stroke-width="1.6"/><line x1="64.50" y1="146.28" x2="66.90" y2="146.28" stroke-width="1.5"/><line x1="64.50" y1="131.37" x2="66.90" y2="131.37" stroke-width="1.5"/><line x1="64.50" y1="116.45" x2="66.90" y2="116.45" stroke-width="1.5"/><line x1="64.50" y1="101.54" x2="67.80" y2="101.54" stroke-width="1.6"/><line x1="64.50" y1="86.62" x2="66.90" y2="86.62" stroke-width="1.5"/><line x1="64.50" y1="71.71" x2="66.90" y2="71.71" stroke-width="1.5"/><line x1="64.50" y1="56.79" x2="66.90" y2="56.79" stroke-width="1.5"/><line x1="64.50" y1="41.88" x2="67.80" y2="41.88" stroke-width="1.6"/></g>
<g stroke="#000" stroke-linecap="butt"><line x1="63.55" y1="29.50" x2="427.05" y2="29.50" stroke-width="1.9"/><line x1="63.55" y1="271.90" x2="426.85" y2="271.90" stroke-width="2.45"/><line x1="64.50" y1="29.40" x2="64.50" y2="271.90" stroke-width="1.9"/><line x1="426.00" y1="29.40" x2="426.00" y2="271.90" stroke-width="2.1"/></g>
<g font-size="15.6px" fill="#000"><text transform="translate(71.70,290.7) scale(1,1.03)" text-anchor="middle">0</text><text transform="translate(129.50,290.7) scale(1,1.03)" text-anchor="middle">5</text><text transform="translate(187.30,290.7) scale(1,1.03)" text-anchor="middle">10</text><text transform="translate(245.10,290.7) scale(1,1.03)" text-anchor="middle">15</text><text transform="translate(302.90,290.7) scale(1,1.03)" text-anchor="middle">20</text><text transform="translate(360.70,290.7) scale(1,1.03)" text-anchor="middle">25</text><text transform="translate(418.50,290.7) scale(1,1.03)" text-anchor="middle">30</text><text transform="translate(61.2,47.78) scale(1,1.04)" text-anchor="end">0.4</text><text transform="translate(61.2,107.44) scale(1,1.04)" text-anchor="end">0.2</text><text transform="translate(61.2,167.10) scale(1,1.04)" text-anchor="end">0.0</text><text transform="translate(61.2,226.76) scale(1,1.04)" text-anchor="end">0.2</text><rect x="28.8" y="221.06" width="7.9" height="2.2" fill="#000"/></g>
<text x="245" y="317.5" font-size="16.4px" text-anchor="middle">x</text>
<g transform="translate(18.9,170.5) rotate(-90)" font-size="16px">
<text x="0" y="0" font-style="italic">&#981;</text>
<path d="M16.4,2.9 V-4.9 H15.1 C14.9,-3.9 14.0,-3.4 12.9,-3.3 V-2.0 C13.6,-2.0 14.2,-2.2 14.7,-2.5 V2.9 Z" fill="#000"/>
<text x="19.75" y="0">(</text>
<text x="25.85" y="0" font-size="17.1px">x</text>
<text x="35.85" y="0">)</text>
</g>
<text transform="translate(357.4,77.7) scale(1,1.08)" font-size="14px">n=5</text>
<g stroke-width="2.2" fill="none">
<line x1="304.3" y1="183" x2="339.4" y2="183" stroke="#000"/>
<line x1="304.3" y1="210" x2="339.6" y2="210" stroke="#b20000" stroke-dasharray="5.7 1.7"/>
<line x1="304.55" y1="236.5" x2="339.4" y2="236.5" stroke="#0000b2" stroke-dasharray="2.8 1.8 5.6 1.6"/>
</g>
<g font-size="14.3px">
<text transform="translate(348.6,187.8) scale(1,1.06)"><tspan font-style="italic">&#956;</tspan>=0.025</text>
<text transform="translate(348.6,214.2) scale(1,1.06)"><tspan font-style="italic">&#956;</tspan>=0.045</text>
<text transform="translate(348.6,241.0) scale(1,1.06)"><tspan font-style="italic">&#956;</tspan>=0.065</text>
</g>
</svg></body></html>
